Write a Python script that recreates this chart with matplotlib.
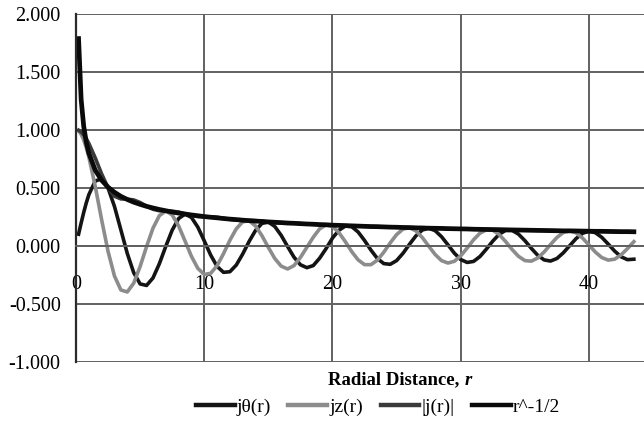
import matplotlib
matplotlib.use("Agg")
import matplotlib.pyplot as plt

# radial distance samples
r = [0.2, 0.4, 0.6, 0.8, 1.0, 1.5, 2.0, 2.5, 3.0, 3.5, 4.0, 4.5, 5.0, 5.5, 6.0, 6.5,
     7.0, 7.5, 8.0, 8.5, 9.0, 9.5, 10.0, 10.5, 11.0, 11.5, 12.0, 12.5, 13.0, 13.5,
     14.0, 14.5, 15.0, 15.5, 16.0, 16.5, 17.0, 17.5, 18.0, 18.5, 19.0, 19.5, 20.0,
     20.5, 21.0, 21.5, 22.0, 22.5, 23.0, 23.5, 24.0, 24.5, 25.0, 25.5, 26.0, 26.5,
     27.0, 27.5, 28.0, 28.5, 29.0, 29.5, 30.0, 30.5, 31.0, 31.5, 32.0, 32.5, 33.0,
     33.5, 34.0, 34.5, 35.0, 35.5, 36.0, 36.5, 37.0, 37.5, 38.0, 38.5, 39.0, 39.5,
     40.0, 40.5, 41.0, 41.5, 42.0, 42.5, 43.0, 43.5]

j_theta = [0.100, 0.196, 0.287, 0.369, 0.440, 0.558, 0.577, 0.497, 0.339, 0.137,
           -0.066, -0.231, -0.328, -0.341, -0.277, -0.154, -0.005, 0.135, 0.235, 0.273,
           0.245, 0.161, 0.043, -0.079, -0.177, -0.228, -0.223, -0.165, -0.070, 0.038,
           0.133, 0.193, 0.205, 0.167, 0.090, -0.006, -0.098, -0.163, -0.188, -0.170,
           -0.106, -0.024, 0.067, 0.134, 0.170, 0.165, 0.119, 0.046, -0.037, -0.109,
           -0.153, -0.159, -0.127, -0.064, 0.013, 0.085, 0.136, 0.152, 0.131, 0.079,
           0.009, -0.063, -0.118, -0.143, -0.134, -0.092, -0.028, 0.041, 0.100, 0.133,
           0.133, 0.101, 0.045, -0.021, -0.081, -0.121, -0.131, -0.109, -0.060, 0.002,
           0.063, 0.108, 0.126, 0.113, 0.073, 0.015, -0.045, -0.094, -0.119, -0.115]

j_z = [0.990, 0.960, 0.912, 0.846, 0.765, 0.512, 0.224, -0.048, -0.260, -0.380,
       -0.397, -0.321, -0.178, -0.007, 0.151, 0.260, 0.300, 0.266, 0.172, 0.042,
       -0.090, -0.194, -0.246, -0.237, -0.171, -0.068, 0.048, 0.147, 0.207, 0.215,
       0.171, 0.087, -0.014, -0.109, -0.175, -0.199, -0.170, -0.100, -0.013, 0.074,
       0.147, 0.180, 0.167, 0.114, 0.036, -0.050, -0.121, -0.162, -0.162, -0.123,
       -0.055, 0.025, 0.097, 0.144, 0.156, 0.129, 0.072, -0.002, -0.074, -0.127,
       -0.148, -0.133, -0.086, -0.019, 0.052, 0.109, 0.138, 0.134, 0.097, 0.037,
       -0.031, -0.090, -0.127, -0.132, -0.105, -0.053, 0.011, 0.072, 0.115, 0.129,
       0.111, 0.067, 0.007, -0.054, -0.101, -0.123, -0.115, -0.078, -0.024, 0.036]

j_abs = [0.995, 0.980, 0.956, 0.923, 0.882, 0.757, 0.619, 0.499, 0.427, 0.404,
         0.402, 0.395, 0.373, 0.341, 0.315, 0.302, 0.300, 0.298, 0.291, 0.276,
         0.261, 0.252, 0.250, 0.250, 0.246, 0.238, 0.228, 0.221, 0.218, 0.218,
         0.217, 0.212, 0.205, 0.199, 0.197, 0.199, 0.196, 0.191, 0.188, 0.185,
         0.181, 0.182, 0.180, 0.176, 0.174, 0.172, 0.170, 0.168, 0.166, 0.165,
         0.163, 0.161, 0.160, 0.158, 0.157, 0.155, 0.154, 0.152, 0.151, 0.150,
         0.148, 0.147, 0.146, 0.145, 0.143, 0.142, 0.141, 0.140, 0.139, 0.138,
         0.137, 0.136, 0.135, 0.134, 0.133, 0.132, 0.131, 0.130, 0.129, 0.129,
         0.128, 0.127, 0.126, 0.125, 0.125, 0.124, 0.123, 0.122, 0.122, 0.121]

r_pow = [1.784, 1.262, 1.030, 0.892, 0.798, 0.651, 0.564, 0.505, 0.461, 0.426,
         0.399, 0.376, 0.357, 0.340, 0.326, 0.313, 0.302, 0.291, 0.282, 0.274,
         0.266, 0.259, 0.252, 0.246, 0.241, 0.235, 0.230, 0.226, 0.221, 0.217,
         0.213, 0.210, 0.206, 0.203, 0.200, 0.196, 0.194, 0.191, 0.188, 0.186,
         0.183, 0.181, 0.178, 0.176, 0.174, 0.172, 0.170, 0.168, 0.166, 0.165,
         0.163, 0.161, 0.160, 0.158, 0.157, 0.155, 0.154, 0.152, 0.151, 0.150,
         0.148, 0.147, 0.146, 0.145, 0.143, 0.142, 0.141, 0.140, 0.139, 0.138,
         0.137, 0.136, 0.135, 0.134, 0.133, 0.132, 0.131, 0.130, 0.129, 0.129,
         0.128, 0.127, 0.126, 0.125, 0.125, 0.124, 0.123, 0.122, 0.122, 0.121]

x_ticks = [0, 10, 20, 30, 40]
y_ticks = [-1.0, -0.5, 0.0, 0.5, 1.0, 1.5, 2.0]

plt.rcParams['font.family'] = ['Liberation Serif', 'DejaVu Serif']

fig = plt.figure(figsize=(6.44, 4.36), dpi=100)
ax = fig.add_axes([76 / 644, 74 / 436, 568 / 644, 348.5 / 436])

grid_c = '#616161'
ax.plot(r, j_theta, color='#141414', lw=2.6, label='jθ(r)', solid_joinstyle='round')
ax.plot(r, j_z, color='#8c8c8c', lw=2.6, label='jz(r)', solid_joinstyle='round')
ax.plot(r, j_abs, color='#3a3a3a', lw=2.6, label='|j(r)|', solid_joinstyle='round')
ax.plot(r, r_pow, color='#0a0a0a', lw=3.4, label='r^-1/2', solid_joinstyle='round')

ax.set_xlim(0, 44.29)
ax.set_ylim(-1.0, 2.0)
ax.set_xticks(x_ticks)
ax.set_yticks(y_ticks)
ax.set_yticklabels(['%.3f' % v for v in y_ticks])
ax.grid(True, color=grid_c, lw=1.4)
ax.set_axisbelow(True)

# Excel-style axes: horizontal axis crosses at zero
ax.spines['bottom'].set_position(('data', 0))
ax.spines['bottom'].set_color(grid_c)
ax.spines['bottom'].set_linewidth(1.4)
ax.spines['top'].set_visible(False)
ax.spines['right'].set_visible(False)
ax.spines['left'].set_color('#2a2a2a')
ax.spines['left'].set_linewidth(1.6)
ax.tick_params(axis='y', length=0, pad=11, labelsize=14.5)
ax.tick_params(axis='x', length=0, pad=21, labelsize=14.5)

t1 = fig.text(328 / 644, 1 - 380 / 436, 'Radial Distance, ', fontsize=13.5,
              fontweight='bold', ha='left', va='center')
ax.annotate('r', xy=(1, 0), xycoords=t1, va='bottom', fontsize=13.5,
            fontweight='bold', fontstyle='italic')

fig.legend(loc='center', bbox_to_anchor=(378 / 644, 1 - 407 / 436), ncol=4,
           frameon=False, fontsize=14, handlelength=2.0, handletextpad=0.1,
           columnspacing=0.9)
for line in fig.legends[0].get_lines():
    line.set_linewidth(3.2)

fig.savefig('out.png', dpi=100)
